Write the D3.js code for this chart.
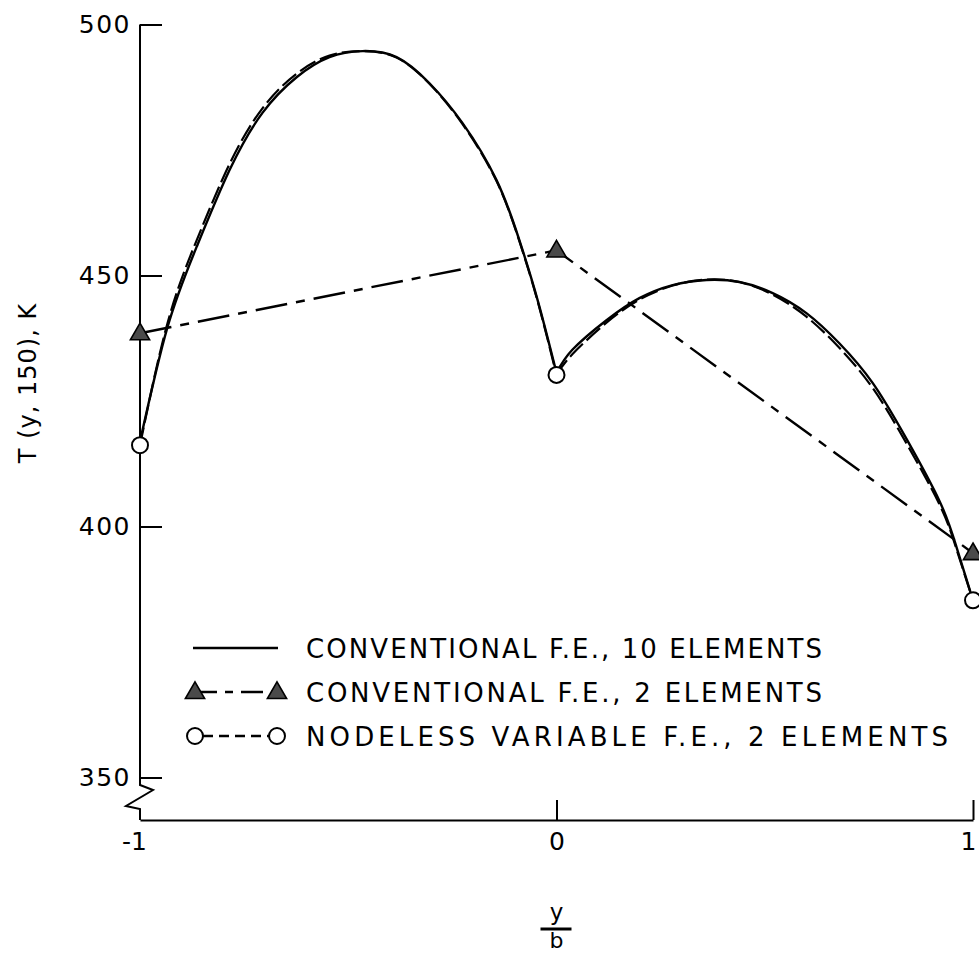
<!DOCTYPE html>
<html>
<head>
<meta charset="utf-8">
<script src="https://cdn.jsdelivr.net/npm/d3@7"></script>
<style>
  html, body { margin: 0; padding: 0; background: #fff; }
  svg { display: block; }
  text { font-family: "DejaVu Sans", "Liberation Sans", sans-serif; fill: #000; }
</style>
</head>
<body>
<script>
// ---------- data ----------
const xTicks = [-1, 0, 1];
const xTickLabels = ["-1", "0", "1"];
const yTicks = [350, 400, 450, 500];
const yTickLabels = ["350", "400", "450", "500"];

// Conventional F.E., 10 elements (solid curve)
const tenPos  = [-1.0, -0.934, -0.864, -0.785, -0.706, -0.624, -0.545, -0.466, -0.384, -0.305, -0.226, -0.144, -0.089, -0.045, 0.0,
                 0.038, 0.120, 0.199, 0.279, 0.360, 0.439, 0.519, 0.600, 0.679, 0.759, 0.840, 0.920, 0.960, 1.0];
const tenTemp = [416.9, 439.7, 455.7, 471.0, 482.4, 489.5, 493.5, 494.7, 493.5, 488.3, 480.4, 469.0, 457.0, 445.0, 430.6,
                 435.2, 441.1, 445.5, 448.1, 449.1, 448.7, 446.5, 442.5, 436.5, 428.6, 417.5, 405.0, 396.0, 385.3];

// Nodeless variable F.E., 2 elements (dashed curve)
const nodelessPos  = [-1.0, -0.934, -0.864, -0.785, -0.706, -0.624, -0.545, -0.466, -0.384, -0.305, -0.226, -0.144, -0.089, -0.045, 0.0,
                      0.038, 0.120, 0.199, 0.279, 0.360, 0.439, 0.519, 0.600, 0.679, 0.759, 0.840, 0.920, 0.960, 1.0];
const nodelessTemp = [416.2, 440.5, 457.0, 472.2, 483.3, 490.2, 493.8, 494.7, 493.4, 488.2, 480.2, 468.8, 456.8, 444.8, 430.2,
                      434.3, 440.6, 445.2, 448.0, 449.2, 448.7, 446.2, 441.8, 435.6, 427.6, 416.6, 404.3, 395.6, 385.3];
const nodelessNodes = [-1, 0, 1];
const nodelessNodeTemp = [416.2, 430.2, 385.3];

// Conventional F.E., 2 elements (triangles)
const twoPos  = [-1, 0, 1];
const twoTemp = [438.5, 455.0, 394.7];

const legendLabels = [
  "CONVENTIONAL F.E., 10 ELEMENTS",
  "CONVENTIONAL F.E., 2 ELEMENTS",
  "NODELESS VARIABLE F.E., 2 ELEMENTS"
];

// ---------- drawing ----------
const W = 979, H = 955;
const svg = d3.select("body").append("svg").attr("width", W).attr("height", H);

const x = d3.scaleLinear().domain([-1, 1]).range([140, 973]);
const y = d3.scaleLinear().domain([350, 500]).range([777.5, 24.5]);
const x0 = x(-1), yBase = 820;

// y axis (ticks pointing inward)
const yAxis = d3.axisLeft(y).tickValues(yTicks).tickFormat((d, i) => yTickLabels[i])
  .tickSizeInner(-22).tickSizeOuter(0).tickPadding(9);
const gy = svg.append("g").attr("transform", `translate(${x0},0)`).call(yAxis);
gy.select(".domain").remove();
gy.selectAll(".tick line").attr("stroke", "#000").attr("stroke-width", 2);
gy.selectAll(".tick text").attr("font-size", 25).attr("letter-spacing", 1.5)
  .style("font-family", "'DejaVu Sans', sans-serif").attr("fill", "#000");

// y axis line with break
const axPath = d3.path();
axPath.moveTo(x0, y(500));
axPath.lineTo(x0, 785);
axPath.lineTo(x0 + 13, 790);
axPath.lineTo(x0 - 14, 806);
axPath.lineTo(x0, 809);
axPath.lineTo(x0, yBase);
svg.append("path").attr("d", axPath.toString()).attr("fill", "none")
  .attr("stroke", "#000").attr("stroke-width", 2).attr("stroke-linejoin", "miter");

// x axis
const xAxis = d3.axisBottom(x).tickValues(xTicks).tickFormat((d, i) => xTickLabels[i])
  .tickSizeInner(-20).tickSizeOuter(0).tickPadding(12);
const gx = svg.append("g").attr("transform", `translate(0,${yBase})`).call(xAxis);
gx.select(".domain").attr("stroke", "#000").attr("stroke-width", 2.2);
gx.selectAll(".tick line").attr("stroke", "#000").attr("stroke-width", 2)
  .attr("display", d => d === -1 ? "none" : null);
gx.selectAll(".tick text").attr("font-size", 25)
  .style("font-family", "'DejaVu Sans', sans-serif").attr("fill", "#000")
  .attr("dx", d => d === -1 ? -6 : (d === 1 ? -5 : 0));

// axis titles
svg.append("text").attr("transform", "translate(36,383) rotate(-90)")
  .attr("text-anchor", "middle").attr("font-size", 24).attr("letter-spacing", 1)
  .text("T (y, 150), K");
svg.append("text").attr("x", x(0)).attr("y", 920).attr("text-anchor", "middle")
  .attr("font-size", 23).text("y");
svg.append("line").attr("x1", x(0) - 16).attr("x2", x(0) + 15).attr("y1", 929).attr("y2", 929)
  .attr("stroke", "#000").attr("stroke-width", 3);
svg.append("text").attr("x", x(0)).attr("y", 948).attr("text-anchor", "middle")
  .attr("font-size", 22).text("b");

// helpers
function seg(posArr, tempArr, fromX, toX) {
  const pts = [];
  posArr.forEach((p, i) => { if (p >= fromX && p <= toX) pts.push([p, tempArr[i]]); });
  return pts;
}
const curveLine = d3.line().x(d => x(d[0])).y(d => y(d[1])).curve(d3.curveNatural);
const straight = d3.line().x(d => x(d[0])).y(d => y(d[1]));

// nodeless dashed curve
[[-1, 0], [0, 1]].forEach(([a, b]) => {
  svg.append("path").attr("d", curveLine(seg(nodelessPos, nodelessTemp, a, b)))
    .attr("fill", "none").attr("stroke", "#000").attr("stroke-width", 2.2)
    .attr("stroke-dasharray", "18,5");
});
// conventional 10 elements solid curve
[[-1, 0], [0, 1]].forEach(([a, b]) => {
  svg.append("path").attr("d", curveLine(seg(tenPos, tenTemp, a, b)))
    .attr("fill", "none").attr("stroke", "#000").attr("stroke-width", 2.4);
});
// conventional 2 elements dash-dot
svg.append("path").attr("d", straight(twoPos.map((p, i) => [p, twoTemp[i]])))
  .attr("fill", "none").attr("stroke", "#000").attr("stroke-width", 2.4)
  .attr("stroke-dasharray", "32,9,9,9");

// markers
const tri = d3.symbol().type(d3.symbolTriangle).size(160);
function triangle(cx, cy) {
  svg.append("path").attr("d", tri()).attr("transform", `translate(${cx},${cy + 1})`)
    .attr("fill", "#4a4a4a").attr("stroke", "#000").attr("stroke-width", 1.6);
}
function circle(cx, cy) {
  svg.append("circle").attr("cx", cx).attr("cy", cy).attr("r", 8)
    .attr("fill", "#fff").attr("stroke", "#000").attr("stroke-width", 2);
}
twoPos.forEach((p, i) => triangle(x(p), y(twoTemp[i])));
nodelessNodes.forEach((p, i) => circle(x(p), y(nodelessNodeTemp[i])));

// legend
const legY = [648, 692, 736];
const lx1 = 195, lx2 = 277, tx = 306;
svg.append("line").attr("x1", lx1 - 2).attr("x2", lx2 + 1).attr("y1", legY[0]).attr("y2", legY[0])
  .attr("stroke", "#000").attr("stroke-width", 2.4);
svg.append("line").attr("x1", lx1).attr("x2", lx2).attr("y1", legY[1]).attr("y2", legY[1])
  .attr("stroke", "#000").attr("stroke-width", 2.4).attr("stroke-dasharray", "22,8,8,8");
triangle(lx1, legY[1]); triangle(lx2, legY[1]);
svg.append("line").attr("x1", lx1 + 8).attr("x2", lx2 - 8).attr("y1", legY[2]).attr("y2", legY[2])
  .attr("stroke", "#000").attr("stroke-width", 2.4).attr("stroke-dasharray", "10,6");
circle(lx1, legY[2]); circle(lx2, legY[2]);

const legLen = [516, 516, 642];
legendLabels.forEach((t, i) => {
  svg.append("text").attr("x", tx).attr("y", legY[i] + 10).attr("font-size", 26)
    .attr("textLength", legLen[i]).attr("lengthAdjust", "spacing").text(t);
});
</script>
</body>
</html>
